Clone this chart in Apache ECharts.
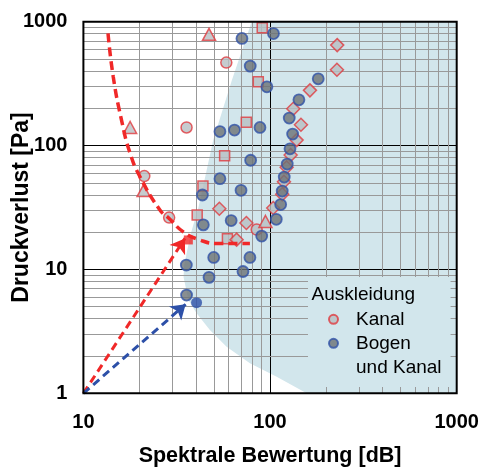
<!DOCTYPE html>
<html><head><meta charset="utf-8">
<script src="https://cdn.jsdelivr.net/npm/echarts@6/dist/echarts.min.js"></script>
<style>html,body{margin:0;padding:0;background:#fff}#c{width:480px;height:468px}</style>
</head><body><div id="c"></div>
<script>
// ---- data ----
const xTickLabels = [10, 100, 1000];
const yTickLabels = [1, 10, 100, 1000];
const xMinor = [20,30,40,50,60,70,80,90,200,300,400,500,600,700,800,900];
const yMinor = [2,3,4,5,6,7,8,9,20,30,40,50,60,70,80,90,200,300,400,500,600,700,800,900];

const kanalCircle = [[58.3,468],[35.7,140],[21.2,56.7],[28.8,26.2],[84.8,21.0]];
const kanalTriangle = [[47.1,791],[17.8,140],[21.0,43.3],[94.5,24.4]];
const kanalSquare = [[90.8,893],[86.5,327],[74.6,154],[57.1,82.7],[43.7,47.1],[40.7,27.5],[59.1,17.7]];
const kanalDiamond = [[53.5,30.9],[74.7,23.7],[66.2,17.4],[104,31.3],[116.2,40.4],[118.7,51.0],[122.7,66.7],
  [128.9,83.8],[138.8,110.7],[146.4,147.2],[133.2,198],[163.6,279],[228.2,409],[229,647]];
const bogen = [[70.7,733],[104.3,802],[78.3,438],[96.2,298],[53.9,129.7],[64.5,133.4],[88.3,140],[78.7,76.1],
  [53.9,54.0],[43.4,39.9],[69.9,43.5],[43.9,22.9],[61.9,24.8],[90.2,18.6],[108,25.4],[114,33.4],[116.2,42.9],
  [119.1,55.7],[123.6,70.9],[127.9,94.2],[132.1,123.8],[126.7,166.7],[142.8,234],[181.2,346],[49.9,12.5],
  [78.0,12.5],[35.6,10.85],[71.6,9.62],[47.1,8.63],[35.7,6.21]];

const curveX = [13.55,14.45,16.0,17.8,20.1,25.7,28.8,34.3,42.1,51.7,78];
const curveY = [804,359,160.7,86.5,56,30.2,25.8,20.1,17.3,16.2,16.2];

const shadeX = [79.7,62.5,49.6,45.4,41.4,37.7,36.0,34.6,34.4,36.5,40.4,47.6,58.5,78.0,108.5,157,1000,1000];
const shadeY = [1000,338,110.8,60.0,31.9,19.7,14.3,10.65,8.68,5.66,4.42,3.24,2.38,1.75,1.36,1,1,1000];

const redArrow = [[10,1],[35.0,17.8]];
const redEnd = [[36.5,17.3]];
const blueArrow = [[10,1],[35.3,5.23]];
const blueEnd = [[40.4,5.39]];

// ---- chart ----
const FONT = '"Liberation Sans", Arial, sans-serif';
const chart = echarts.init(document.getElementById('c'), null, {renderer:'canvas'});
const kanalStyle = {color:'#b8bfc3', borderColor:'#e0393e', borderWidth:1.5};
const bogenStyle = {color:'#6c7276', borderColor:'#3152a8', borderWidth:1.8};
const fmt = v => String(Math.round(v));

chart.setOption({
  animation:false,
  grid:{left:83.4, right:23.3, top:21.7, bottom:74.7, show:true, z:10, outerBoundsMode:'none', containLabel:false,
        backgroundColor:'transparent', borderColor:'#000', borderWidth:2},
  xAxis:{type:'log', logBase:10, min:xTickLabels[0], max:xTickLabels[xTickLabels.length-1], z:2,
    axisLine:{show:false}, axisTick:{show:false},
    axisLabel:{fontFamily:FONT, fontWeight:'bold', fontSize:20, color:'#000', margin:19, formatter:fmt},
    splitLine:{show:true, lineStyle:{color:'#000', width:1}},
    name:'Spektrale Bewertung [dB]', nameLocation:'middle', nameGap:52, nameMoveOverlap:false,
    nameTextStyle:{fontFamily:FONT, fontWeight:'bold', fontSize:21.5, color:'#000'}},
  yAxis:{type:'log', logBase:10, min:yTickLabels[0], max:yTickLabels[yTickLabels.length-1], z:2,
    axisLine:{show:false}, axisTick:{show:false},
    axisLabel:{fontFamily:FONT, fontWeight:'bold', fontSize:20, color:'#000', margin:16, formatter:fmt},
    splitLine:{show:true, lineStyle:{color:'#000', width:1}},
    name:'Druckverlust [Pa]', nameLocation:'middle', nameGap:50, nameMoveOverlap:false,
    nameTextStyle:{fontFamily:FONT, fontWeight:'bold', fontSize:23, color:'#000'}},
  legend:{orient:'vertical', left:308, top:277, padding:[30.3,9,7.7,20], itemGap:-24,
    backgroundColor:'#d2e6ec', itemWidth:9, itemHeight:9, z:4,
    data:[{name:'Kanal', icon:'circle'},{name:'Bogen und Kanal', icon:'circle'}],
    formatter: n => n === 'Kanal' ? 'Kanal' : '\nBogen\nund Kanal',
    textStyle:{fontFamily:FONT, fontSize:19, color:'#000', lineHeight:24, padding:[0,0,0,13]}},
  graphic:[{type:'text', x:311.5, y:295, z:10, silent:true,
    style:{text:'Auskleidung', font:'19px "Liberation Sans", Arial, sans-serif', fill:'#000', verticalAlign:'middle'}}],
  series:[
    {type:'custom', name:'shade', z:1, silent:true, clip:true,
     data:[[shadeX[0], shadeY[0]]],
     renderItem:(params, api) => {
       const pts = shadeX.map((x,i) => api.coord([x, shadeY[i]]));
       return {type:'polygon', shape:{points:pts}, style:{fill:'#d2e6ec'}, silent:true};
     }},
    {type:'line', name:'minor', z:2, silent:true, data:[[10,1]], showSymbol:false, symbol:'none',
     lineStyle:{opacity:0},
     markLine:{z:2, silent:true, symbol:['none','none'], label:{show:false}, animation:false,
       lineStyle:{color:'#999', width:1, type:'solid'},
       emphasis:{disabled:true},
       data:[...xMinor.map(v => ({xAxis:v})), ...yMinor.map(v => ({yAxis:v}))]}},
    {type:'scatter', name:'Kanal', z:5, symbol:'circle', symbolSize:11, itemStyle:kanalStyle, data:kanalCircle},
    {type:'scatter', name:'Kanal', z:5, symbol:'triangle', symbolSize:[13,12], itemStyle:kanalStyle, data:kanalTriangle},
    {type:'scatter', name:'Kanal', z:5, symbol:'rect', symbolSize:10, itemStyle:kanalStyle, data:kanalSquare},
    {type:'scatter', name:'Kanal', z:5, symbol:'diamond', symbolSize:[13,13], itemStyle:kanalStyle, data:kanalDiamond},
    {type:'scatter', name:'Bogen und Kanal', z:6, symbol:'circle', symbolSize:11, itemStyle:bogenStyle, data:bogen},
    {type:'line', name:'curve', z:7, silent:true, symbol:'none', smooth:0.5,
     lineStyle:{color:'#f02828', width:3.5, type:[9,5]},
     data:curveX.map((x,i) => [x, curveY[i]])},
    {type:'lines', name:'arrowR', coordinateSystem:'cartesian2d', z:8, silent:true,
     symbol:['none','arrow'], symbolSize:14,
     lineStyle:{color:'#f02828', width:3, type:[8,5], opacity:1},
     data:[{coords:redArrow}]},
    {type:'lines', name:'arrowB', coordinateSystem:'cartesian2d', z:8, silent:true,
     symbol:['none','arrow'], symbolSize:14,
     lineStyle:{color:'#2d50a8', width:3, type:[8,5], opacity:1},
     data:[{coords:blueArrow}]},
    {type:'scatter', name:'endR', z:8, silent:true, symbol:'rect', symbolSize:9, itemStyle:{color:'#f02828'}, data:redEnd},
    {type:'scatter', name:'endB', z:8, silent:true, symbol:'circle', symbolSize:11, itemStyle:{color:'#2d50a8'}, data:blueEnd}
  ]
});
</script></body></html>
